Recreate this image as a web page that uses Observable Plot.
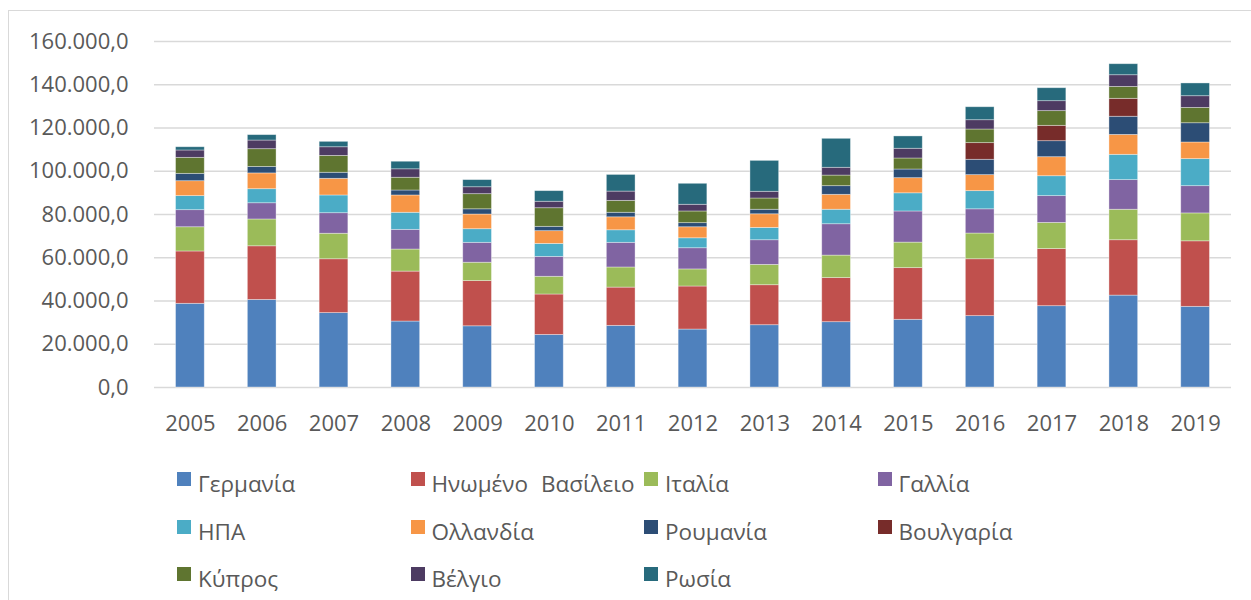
<!DOCTYPE html>
<html>
<head>
<meta charset="utf-8">
<script src="https://cdn.jsdelivr.net/npm/d3@7"></script>
<script src="https://cdn.jsdelivr.net/npm/@observablehq/plot@0.6"></script>
<style>
  html, body { margin: 0; padding: 0; background: #fff; overflow: hidden; }
  body { width: 1251px; height: 600px; position: relative; font-family: "Open Sans", sans-serif; }
  #frame { position: absolute; left: 8px; top: 10px; width: 1400px; height: 800px; border: 1px solid #d9d9d9; box-sizing: border-box; }
  #chart { position: absolute; left: 0; top: 0; }
  #legend { position: absolute; left: 177px; top: 469px; display: grid; grid-template-columns: repeat(4, 233.5px); grid-auto-rows: 47.5px; }
  .item { display: flex; align-items: flex-start; font-size: 22.5px; line-height: 30px; color: #595959; white-space: nowrap; word-spacing: 7px; }
  .sw { width: 14px; height: 14px; margin-top: 3px; margin-right: 7px; flex: none; }
</style>
</head>
<body>
<div id="frame"></div>
<div id="chart"></div>
<div id="legend"></div>
<script>
const years = ["2005","2006","2007","2008","2009","2010","2011","2012","2013","2014","2015","2016","2017","2018","2019"];
const seriesNames = ["Γερμανία","Ηνωμένο Βασίλειο","Ιταλία","Γαλλία","ΗΠΑ","Ολλανδία","Ρουμανία","Βουλγαρία","Κύπρος","Βέλγιο","Ρωσία"];
const seriesColors = ["#4F81BD","#C0504D","#9BBB59","#8064A2","#4BACC6","#F79646","#2C4D75","#772C2A","#5F7530","#4D3B62","#276A7C"];

const germany     = [38700,40500,34400,30500,28300,24300,28500,26800,28800,30200,31300,33000,37600,42500,37300];
const uk          = [24200,24800,24900,23100,20900,18700,17700,19900,18500,20400,23900,26300,26400,25600,30300];
const italy       = [11200,12400,11800,10200, 8500, 8200, 9300, 7900, 9400,10400,11800,11900,12100,14100,12900];
const france      = [ 7900, 7500, 9500, 9100, 9200, 9200,11400, 9800,11400,14500,14400,11200,12400,13700,12600];
const usa         = [ 6500, 6500, 8200, 7900, 6300, 6000, 5800, 4600, 5700, 6700, 8400, 8400, 9200,11700,12500];
const netherlands = [ 6900, 7300, 7700, 8000, 6800, 5900, 6000, 5100, 6300, 6900, 7000, 7400, 8800, 9200, 7700];
const romania     = [ 3400, 3000, 2800, 2300, 2400, 2000, 2100, 1900, 2100, 4000, 4000, 7100, 7400, 8400, 8900];
const bulgaria    = [    0,    0,    0,    0,    0,    0,    0,    0,    0,    0,    0, 7700, 7100, 8300,    0];
const cyprus      = [ 7400, 8200, 7800, 5900, 7000, 8600, 5500, 5400, 5200, 4900, 5100, 6300, 6800, 5500, 7100];
const belgium     = [ 3400, 4000, 4000, 3900, 3200, 3000, 4300, 3100, 3100, 3600, 4500, 4300, 4600, 5400, 5400];
const russia      = [ 1500, 2500, 2500, 3500, 3300, 4900, 7700, 9700,14300,13400, 5700, 6000, 6000, 5100, 5900];
const yTicks = [0,20000,40000,60000,80000,100000,120000,140000,160000];

const seriesValues = [germany, uk, italy, france, usa, netherlands, romania, bulgaria, cyprus, belgium, russia];
const rows = [];
years.forEach((yr, i) => {
  seriesNames.forEach((name, s) => {
    const v = seriesValues[s][i];
    if (v > 0) rows.push({year: yr, country: name, value: v});
  });
});

const locale = d3.formatLocale({decimal: ",", thousands: ".", grouping: [3], currency: ["", "€"]});
const fmt = locale.format(",.1f");

const plot = Plot.plot({
  width: 1251,
  height: 440,
  marginLeft: 154,
  marginRight: 20,
  marginTop: 41,
  marginBottom: 53,
  style: {fontFamily: "'Open Sans', sans-serif", fontSize: "22px", color: "#595959", background: "transparent"},
  x: {domain: years, paddingInner: 0.6, paddingOuter: 0.3, round: false, label: null},
  y: {domain: [0, 160000], label: null},
  color: {domain: seriesNames, range: seriesColors},
  marks: [
    Plot.gridY(yTicks, {stroke: "#d9d9d9", strokeOpacity: 1, strokeWidth: 1.4}),
    Plot.axisY(yTicks, {tickSize: 0, tickPadding: 26, tickFormat: fmt, label: null, fill: "#595959"}),
    Plot.axisX({tickSize: 0, tickPadding: 28, label: null, fill: "#595959"}),
    Plot.barY(rows, {x: "year", y: "value", fill: "country", order: seriesNames, stroke: "#ffffff", strokeOpacity: 0.45, strokeWidth: 0.8})
  ]
});
document.getElementById("chart").appendChild(plot);

const legend = document.getElementById("legend");
seriesNames.forEach((name, i) => {
  const item = document.createElement("div");
  item.className = "item";
  const sw = document.createElement("span");
  sw.className = "sw";
  sw.style.background = seriesColors[i];
  const t = document.createElement("span");
  t.textContent = name;
  item.appendChild(sw);
  item.appendChild(t);
  legend.appendChild(item);
});
</script>
</body>
</html>
